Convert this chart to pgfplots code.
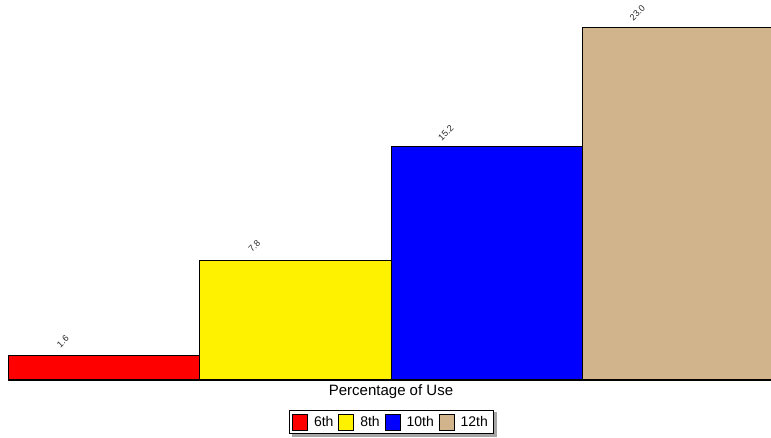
\documentclass[border=0pt]{standalone}
\usepackage{fontspec}
\setmainfont{Liberation Sans}
\usepackage{pgfplots}
\pgfplotsset{compat=1.18}
\definecolor{tanbar}{HTML}{D2B48C}

\begin{document}
\begin{tikzpicture}
\useasboundingbox (0pt,0pt) rectangle (771pt,438pt);
% legend shadow, drawn first so that it lies behind the legend box
\fill[gray!70] (292pt,1pt) rectangle (496.5pt,25.5pt);
\begin{axis}[
    at={(8pt,58pt)}, anchor=south west,
    scale only axis,
    width=763pt, height=380pt,
    xmin=-0.5, xmax=3.484,
    ymin=0, ymax=24.76,
    axis lines=none,
    clip=false,
    ybar, bar width=1, bar shift=0pt,
    point meta=explicit symbolic,
    nodes near coords,
    nodes near coords style={font=\fontsize{9}{10}\selectfont, text=black!85,
        anchor=center, xshift=-41pt, yshift=14pt, rotate=45, inner sep=0pt},
    legend columns=4,
    legend style={at={(0.502,-0.1105)}, anchor=center, draw=black, fill=white,
        font=\fontsize{14}{16}\selectfont, inner xsep=3pt, inner ysep=3pt,
        /tikz/every even column/.append style={column sep=3pt}},
    legend image code/.code={
        \draw[#1, draw=black] (0pt,-8pt) rectangle (15pt,8pt);
        \path (19pt,0pt);},
]
\addplot[fill=red, draw=black, line width=0.8pt] coordinates {(0,1.6)[1.6]};
\addlegendentry{6th}
\addplot[fill=yellow, draw=black, line width=0.8pt] coordinates {(1,7.8)[7.8]};
\addlegendentry{8th}
\addplot[fill=blue, draw=black, line width=0.8pt] coordinates {(2,15.2)[15.2]};
\addlegendentry{10th}
\addplot[fill=tanbar, draw=black, line width=0.8pt] coordinates {(3,23.0)[23.0]};
\addlegendentry{12th}
\draw[black, line width=1pt] (axis cs:-0.5,0) -- (axis cs:3.484,0);
\end{axis}
\node[font=\fontsize{15}{17}\selectfont] at (391pt,46pt) {Percentage of Use};
\end{tikzpicture}
\end{document}
